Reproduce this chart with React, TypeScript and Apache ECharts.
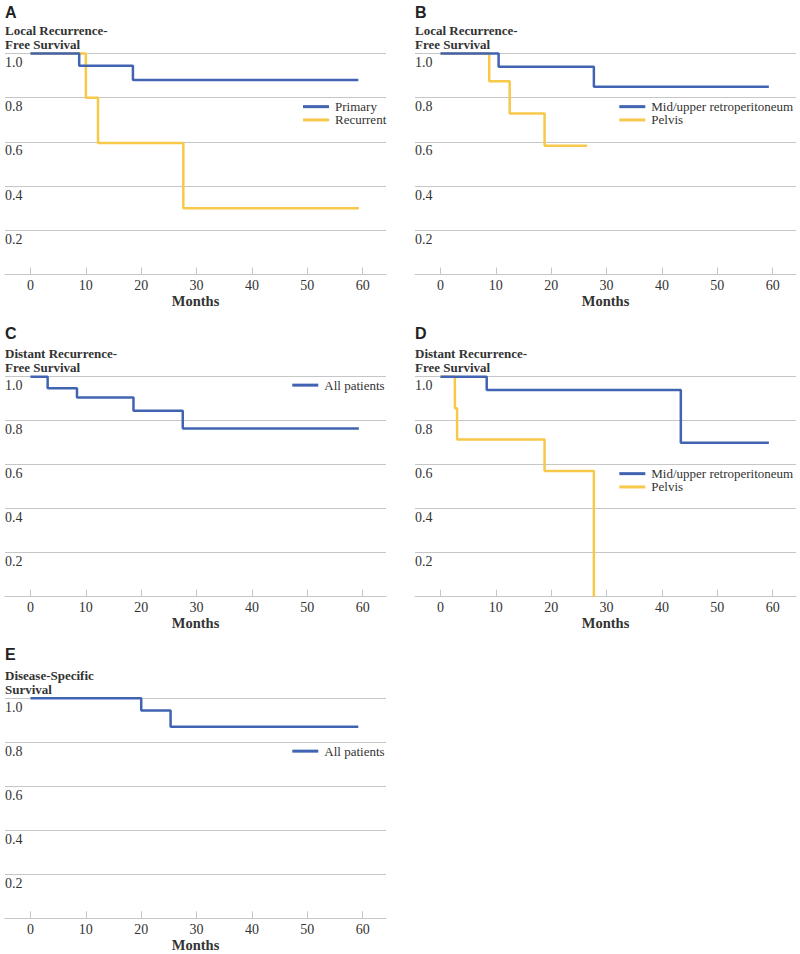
import React, { useEffect, useRef } from "react";
import * as echarts from "echarts";

// ---------- data (months, survival probability) ----------
const monthTicks = [0, 10, 20, 30, 40, 50, 60];

const aPrimary = [[0, 1], [8.8, 0.945], [18.5, 0.88], [59.2, 0.88]];
const aRecurrent = [[0, 1], [10.0, 0.8], [12.2, 0.595], [27.6, 0.3], [59.3, 0.3]];

const bMidUpper = [[0, 1], [10.5, 0.94], [27.7, 0.85], [59.3, 0.85]];
const bPelvis = [[0, 1], [8.8, 0.875], [12.5, 0.729], [18.8, 0.583], [26.5, 0.583]];

const cAll = [[0, 1], [3.1, 0.947], [8.4, 0.905], [18.6, 0.845], [27.5, 0.765], [59.3, 0.765]];

const dMidUpper = [[0, 1], [8.35, 0.94], [43.4, 0.7], [59.3, 0.7]];
const dPelvis = [[0, 1], [2.6, 0.857], [3.0, 0.714], [18.8, 0.571], [27.7, 0.0]];

const eAll = [[0, 1], [20.0, 0.944], [25.3, 0.871], [59.2, 0.871]];

const panelLetters = ["A", "B", "C", "D", "E"];
const panelTitles = [
  "Local Recurrence-\nFree Survival",
  "Local Recurrence-\nFree Survival",
  "Distant Recurrence-\nFree Survival",
  "Distant Recurrence-\nFree Survival",
  "Disease-Specific\nSurvival",
];

const BLUE = "#4164b2";
const YELLOW = "#f8c84a";
const GRIDC = "#c6c6c6";
const TEXTC = "#333333";
const SERIF = "'Liberation Serif', 'Times New Roman', serif";
const SANS = "'Liberation Sans', Arial, sans-serif";

// panel layout
const panels = [
  { left: 5, top: 53.5, height: 221 },
  { left: 415, top: 53.5, height: 221 },
  { left: 5, top: 376.7, height: 220 },
  { left: 415, top: 376.7, height: 220 },
  { left: 5, top: 698.3, height: 220 },
];
const letterY = [12.8, 12.8, 333.7, 333.7, 654.5];
const titleY = [37.3, 37.3, 360.2, 360.2, 682];

export default function App() {
  const ref = useRef<HTMLDivElement>(null);

  useEffect(() => {
    if (!ref.current) return;
    const chart = echarts.init(ref.current, undefined, { renderer: "svg" });

    const grid = panels.map((p) => ({
      left: p.left,
      top: p.top,
      width: 381,
      height: p.height,
      containLabel: false,
      outerBoundsMode: "none",
    }));

    const xAxis = panels.map((_, i) => ({
      type: "value",
      gridIndex: i,
      min: -4.6,
      max: 64.2,
      name: "Months",
      nameLocation: "middle",
      nameGap: 19,
      nameTextStyle: { fontFamily: SERIF, fontWeight: "bold", fontSize: 14.5, color: TEXTC },
      splitLine: { show: false },
      axisLine: { show: true, lineStyle: { color: GRIDC, width: 1 } },
      axisTick: { show: true, inside: true, length: 7, customValues: monthTicks, lineStyle: { color: GRIDC } },
      axisLabel: { customValues: monthTicks, fontFamily: SERIF, fontSize: 14, color: TEXTC, margin: 4 },
    }));

    const yAxis = panels.map((_, i) => ({
      type: "value",
      gridIndex: i,
      min: 0,
      max: 1,
      interval: 0.2,
      axisLine: { show: false },
      axisTick: { show: false },
      splitLine: { show: true, lineStyle: { color: GRIDC, width: 1 } },
      axisLabel: {
        inside: true,
        margin: 0,
        showMinLabel: false,
        verticalAlign: "top",
        align: "left",
        padding: [2, 0, 0, 0],
        fontFamily: SERIF,
        fontSize: 14,
        color: TEXTC,
        formatter: (v: number) => v.toFixed(1),
      },
    }));

    const mk = (name: string, data: number[][], color: string, idx: number) => ({
      type: "line",
      name,
      data,
      xAxisIndex: idx,
      yAxisIndex: idx,
      step: "end",
      symbol: "none",
      showSymbol: false,
      clip: false,
      lineStyle: { color, width: 2.5 },
      itemStyle: { color },
      emphasis: { disabled: true },
    });

    const series = [
      mk("Recurrent|A", aRecurrent, YELLOW, 0),
      mk("Primary|A", aPrimary, BLUE, 0),
      mk("Pelvis|B", bPelvis, YELLOW, 1),
      mk("Mid/upper retroperitoneum|B", bMidUpper, BLUE, 1),
      mk("All patients|C", cAll, BLUE, 2),
      mk("Pelvis|D", dPelvis, YELLOW, 3),
      mk("Mid/upper retroperitoneum|D", dMidUpper, BLUE, 3),
      mk("All patients|E", eAll, BLUE, 4),
    ];

    const lg = (left: number, top: number, data: string[]) => ({
      left,
      top,
      orient: "vertical",
      padding: 0,
      itemGap: 0,
      itemWidth: 26,
      itemHeight: 3,
      icon: "rect",
      data,
      selectedMode: false,
      formatter: (n: string) => n.split("|")[0],
      textStyle: { fontFamily: SERIF, fontSize: 13, lineHeight: 13.3, color: TEXTC, padding: [0, 0, 0, 1] },
    });

    const legend = [
      lg(303, 100, ["Primary|A", "Recurrent|A"]),
      lg(619.3, 100, ["Mid/upper retroperitoneum|B", "Pelvis|B"]),
      lg(292.3, 378.5, ["All patients|C"]),
      lg(619.3, 467, ["Mid/upper retroperitoneum|D", "Pelvis|D"]),
      lg(292.3, 744.5, ["All patients|E"]),
    ];

    const graphic: any[] = [];
    panels.forEach((p, i) => {
      graphic.push({
        type: "text",
        x: p.left,
        y: letterY[i],
        style: {
          text: panelLetters[i],
          font: `bold 16px ${SANS}`,
          fill: "#222",
          verticalAlign: "middle",
          align: "left",
        },
      });
      graphic.push({
        type: "text",
        x: p.left,
        y: titleY[i],
        style: {
          text: panelTitles[i],
          font: `bold 13px ${SERIF}`,
          lineHeight: 14,
          fill: TEXTC,
          verticalAlign: "middle",
          align: "left",
        },
      });
    });

    chart.setOption({
      animation: false,
      backgroundColor: "#ffffff",
      grid,
      xAxis,
      yAxis,
      legend,
      series,
      graphic,
    } as any);

    return () => chart.dispose();
  }, []);

  return (
    <div
      ref={ref}
      style={{ position: "absolute", left: 0, top: 0, width: 800, height: 954 }}
    />
  );
}
